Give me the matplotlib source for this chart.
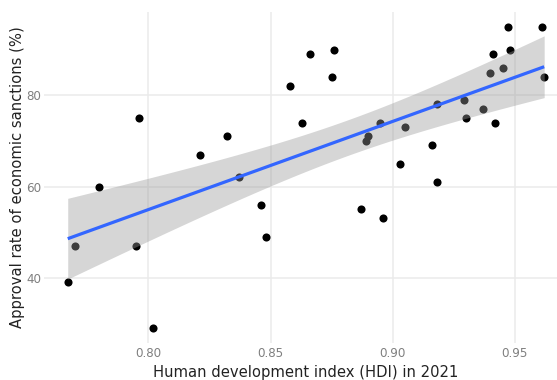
#!/usr/bin/env python3
import numpy as np
import matplotlib
matplotlib.use("Agg")
import matplotlib.pyplot as plt


# HDI 2021 vs approval of sanctions, one point per country
hdi = [0.767, 0.770, 0.780, 0.795, 0.796, 0.802, 0.821, 0.832, 0.837,
       0.846, 0.848, 0.858, 0.863, 0.866, 0.875, 0.876, 0.887, 0.889,
       0.890, 0.895, 0.896, 0.903, 0.905, 0.916, 0.918, 0.918, 0.929,
       0.930, 0.937, 0.940, 0.941, 0.942, 0.945, 0.947, 0.948, 0.961,
       0.962]
approval = [39, 47, 60, 47, 75, 29, 67, 71, 62,
            56, 49, 82, 74, 89, 84, 90, 55, 70,
            71, 74, 53, 65, 73, 69, 78, 61, 79,
            75, 77, 85, 89, 74, 86, 95, 90, 95,
            84]

xticks = [0.80, 0.85, 0.90, 0.95]
yticks = [40, 60, 80]


def lm_band(x, y, n_grid=80, t_crit=2.0301):
    """linear fit + 95% confidence band (like geom_smooth(method='lm'))"""
    x = np.asarray(x, float)
    y = np.asarray(y, float)
    n = len(x)
    b, a = np.polyfit(x, y, 1)
    resid = y - (a + b * x)
    s = np.sqrt(np.sum(resid**2) / (n - 2))
    xm = x.mean()
    sxx = np.sum((x - xm)**2)
    xg = np.linspace(x.min(), x.max(), n_grid)
    yg = a + b * xg
    se = s * np.sqrt(1.0 / n + (xg - xm)**2 / sxx)
    return xg, yg, yg - t_crit * se, yg + t_crit * se


def expand(v, frac=0.05):
    lo, hi = min(v), max(v)
    d = (hi - lo) * frac
    return lo - d, hi + d


fig = plt.figure(figsize=[5.57, 3.80], dpi=100)
# panel runs a bit past the right edge, like the original crop
ax = fig.add_axes([43.9 / 557, 37.1 / 380, 524.1 / 557, 331.0 / 380])

ax.scatter(hdi, approval, s=34, color='black', linewidths=0, zorder=2)

xg, yg, lo, hi = lm_band(hdi, approval)
ax.fill_between(xg, lo, hi, color='#999999', alpha=0.4, linewidth=0, zorder=3)
ax.plot(xg, yg, color='#3366FF', linewidth=2.3, zorder=4, solid_capstyle='butt')

ax.set_xlim(*expand(hdi))
ax.set_ylim(*expand(approval))
ax.set_xticks(xticks)
ax.set_xticklabels(['%.2f' % t for t in xticks])
ax.set_yticks(yticks)

ax.grid(True, color='#EBEBEB', linewidth=1.1, zorder=0)
ax.set_axisbelow(True)
for sp in ax.spines.values():
    sp.set_visible(False)
ax.tick_params(length=0, labelsize=8.6, labelcolor='#7F7F7F')
ax.tick_params(axis='x', pad=3)
ax.tick_params(axis='y', pad=2)

ax.set_xlabel('Human development index (HDI) in 2021', fontsize=10.6,
              color='#222222')
ax.set_ylabel('Approval rate of economic sanctions (%)', fontsize=10.6,
              color='#222222')
ax.xaxis.set_label_coords(0.5, -0.068)
ax.yaxis.set_label_coords(-0.036, 0.5)

fig.savefig('out.png', dpi=100)
